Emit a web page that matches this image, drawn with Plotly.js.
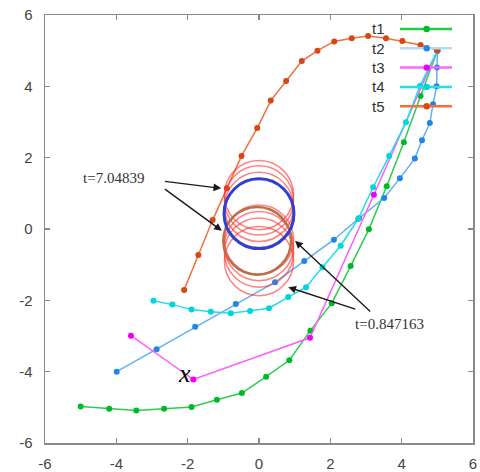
<!DOCTYPE html>
<html>
<head>
<meta charset="utf-8">
<script src="https://cdn.plot.ly/plotly-3.0.1.min.js"></script>
<style>html,body{margin:0;padding:0;background:#fff;}#plot{width:480px;height:472px;}</style>
</head>
<body>
<div id="plot"></div>
<script>
// ---- data ----
var seriesNames = ["t1", "t2", "t3", "t4", "t5"];

var t1x = [-5.0, -4.2, -3.44, -2.66, -1.89, -1.18, -0.48, 0.2, 0.85, 1.44, 2.04, 2.57, 3.08, 3.58, 4.06, 4.53, 5.0];
var t1y = [-4.98, -5.04, -5.09, -5.04, -4.99, -4.79, -4.6, -4.14, -3.68, -2.85, -2.08, -1.04, -0.01, 1.2, 2.43, 3.73, 5.0];

var t2x = [-3.99, -2.87, -1.79, -0.65, 0.45, 1.27, 2.1, 2.8, 3.51, 3.95, 4.37, 4.57, 4.79, 4.88, 4.98, 4.99, 5.0];
var t2y = [-4.0, -3.37, -2.74, -2.1, -1.49, -0.9, -0.3, 0.3, 0.87, 1.42, 1.98, 2.49, 2.97, 3.5, 4.0, 4.53, 5.0];

var t3x = [-3.59, -1.84, 1.43, 3.22, 5.0];
var t3y = [-2.99, -4.22, -3.05, 0.96, 5.0];

var t4x = [-2.96, -2.43, -1.89, -1.35, -0.79, -0.25, 0.28, 0.82, 1.32, 1.78, 2.29, 2.78, 3.2, 3.65, 4.12, 4.51, 5.0];
var t4y = [-2.01, -2.12, -2.26, -2.32, -2.36, -2.3, -2.22, -1.91, -1.63, -1.07, -0.47, 0.28, 1.17, 2.05, 2.99, 4.01, 5.0];

var t5x = [-2.1, -1.7, -1.3, -0.9, -0.49, -0.05, 0.33, 0.76, 1.2, 1.64, 2.11, 2.6, 3.06, 3.56, 4.02, 4.53, 5.0];
var t5y = [-1.71, -0.73, 0.25, 1.14, 2.05, 2.83, 3.6, 4.15, 4.71, 5.0, 5.26, 5.35, 5.41, 5.35, 5.27, 5.16, 5.01];

// circles: centre x, centre y, radius
var redCx = [0, 0, 0, 0, 0, 0, 0, 0];
var redCy = [0.95, 0.8, 0.62, 0.45, -0.3, -0.48, -0.66, -0.9];
var redR  = [0.97, 0.97, 0.97, 0.97, 0.97, 0.97, 0.97, 0.97];
var blueCircle = [0.0, 0.43, 0.98];
var brownCircle = [-0.05, -0.33, 0.95];

var xTicks = [-6, -4, -2, 0, 2, 4, 6];
var yTicks = [-6, -4, -2, 0, 2, 4, 6];

var label1 = "t=7.04839";
var label2 = "t=0.847163";
var labelX = "<i>x</i>";

// ---- styles ----
var markerColors = ["#00b828", "#1f86ea", "#ee00ee", "#00d4de", "#da4612"];
var lineColors   = ["#2ccc50", "#62b0f2", "#ff5cff", "#22dde6", "#f0703e"];
var legendLineColors = ["#22cc44", "#b4daf8", "#ff66ff", "#22e0e8", "#f07040"];

var xs = [t1x, t2x, t3x, t4x, t5x];
var ys = [t1y, t2y, t3y, t4y, t5y];

var traces = [];
for (var i = 0; i < xs.length; i++) {
  traces.push({
    type: "scatter", mode: "lines+markers", name: seriesNames[i],
    x: xs[i], y: ys[i],
    line: {color: lineColors[i], width: 1.5},
    marker: {color: markerColors[i], size: 6},
    showlegend: false, hoverinfo: "skip"
  });
}

var shapes = [];
for (var k = 0; k < redCy.length; k++) {
  shapes.push({type: "circle", xref: "x", yref: "y",
    x0: redCx[k] - redR[k], x1: redCx[k] + redR[k], y0: redCy[k] - redR[k], y1: redCy[k] + redR[k],
    line: {color: "rgba(255,45,45,0.6)", width: 1.5}});
}
shapes.push({type: "circle", xref: "x", yref: "y",
  x0: brownCircle[0] - brownCircle[2], x1: brownCircle[0] + brownCircle[2],
  y0: brownCircle[1] - brownCircle[2], y1: brownCircle[1] + brownCircle[2],
  line: {color: "#b87048", width: 2.5}});
shapes.push({type: "circle", xref: "x", yref: "y",
  x0: blueCircle[0] - blueCircle[2], x1: blueCircle[0] + blueCircle[2],
  y0: blueCircle[1] - blueCircle[2], y1: blueCircle[1] + blueCircle[2],
  line: {color: "#3040d0", width: 3}});

// custom gnuplot-like legend (paper coordinates)
var L = 45, T = 15, W = 428, H = 428;
function px2x(p) { return (p - L) / W; }
function py2y(p) { return (T + H - p) / H; }
var annotations = [];
for (var j = 0; j < seriesNames.length; j++) {
  var py = 29 + 19.3 * j;
  shapes.push({type: "line", xref: "paper", yref: "paper",
    x0: px2x(400), x1: px2x(452), y0: py2y(py), y1: py2y(py),
    line: {color: legendLineColors[j], width: 2.5}});
  shapes.push({type: "circle", xref: "paper", yref: "paper",
    x0: px2x(426.7 - 3.2), x1: px2x(426.7 + 3.2), y0: py2y(py + 3.2), y1: py2y(py - 3.2),
    fillcolor: markerColors[j], line: {width: 0}});
  annotations.push({xref: "paper", yref: "paper", x: px2x(387), y: py2y(py),
    xanchor: "right", yanchor: "middle", showarrow: false, text: seriesNames[j],
    font: {family: "Liberation Sans, Arial, sans-serif", size: 15, color: "#333"}});
}

var arrowStyle = {showarrow: true, arrowhead: 2, arrowsize: 1.1, arrowwidth: 1.4, arrowcolor: "#1a1a1a",
  axref: "x", ayref: "y", xref: "x", yref: "y", text: "", standoff: 0, startstandoff: 0};
function arrow(x0, y0, x1, y1) {
  var a = Object.assign({}, arrowStyle);
  a.ax = x0; a.ay = y0; a.x = x1; a.y = y1;
  return a;
}
annotations.push(arrow(-2.68, 1.34, -1.06, 1.14));
annotations.push(arrow(-2.68, 1.15, -1.04, -0.05));
annotations.push(arrow(3.16, -2.35, 1.01, -0.33));
annotations.push(arrow(2.74, -2.26, 0.82, -1.63));

var serif = "Liberation Serif, DejaVu Serif, serif";
annotations.push({xref: "x", yref: "y", x: -4.09, y: 1.43, text: label1, showarrow: false,
  font: {family: serif, size: 15, color: "#333"}});
annotations.push({xref: "x", yref: "y", x: 3.67, y: -2.67, text: label2, showarrow: false,
  font: {family: serif, size: 15, color: "#333"}});
annotations.push({xref: "x", yref: "y", x: -2.1, y: -4.05, text: labelX, showarrow: false,
  font: {family: serif, size: 26, color: "#000"}});

var axisCommon = {
  range: [-6, 6], tickmode: "array", showgrid: false, zeroline: false,
  showline: true, mirror: "ticks", linecolor: "#8a8a8a", linewidth: 1.5,
  ticks: "inside", ticklen: 5, tickcolor: "#8a8a8a", tickwidth: 1.2,
  tickfont: {family: "Liberation Sans, Arial, sans-serif", size: 15, color: "#444"},
  fixedrange: true
};
var xaxis = Object.assign({}, axisCommon, {tickvals: xTicks, ticktext: xTicks.map(String), ticklabelstandoff: 6});
var yaxis = Object.assign({}, axisCommon, {tickvals: yTicks, ticktext: yTicks.map(String), ticklabelstandoff: 8});

var layout = {
  width: 480, height: 472,
  margin: {l: L, r: 480 - L - W, t: T, b: 472 - T - H, pad: 0},
  paper_bgcolor: "#fff", plot_bgcolor: "#fff",
  xaxis: xaxis, yaxis: yaxis,
  shapes: shapes, annotations: annotations, showlegend: false
};

Plotly.newPlot("plot", traces, layout, {displayModeBar: false, staticPlot: true});
</script>
</body>
</html>
